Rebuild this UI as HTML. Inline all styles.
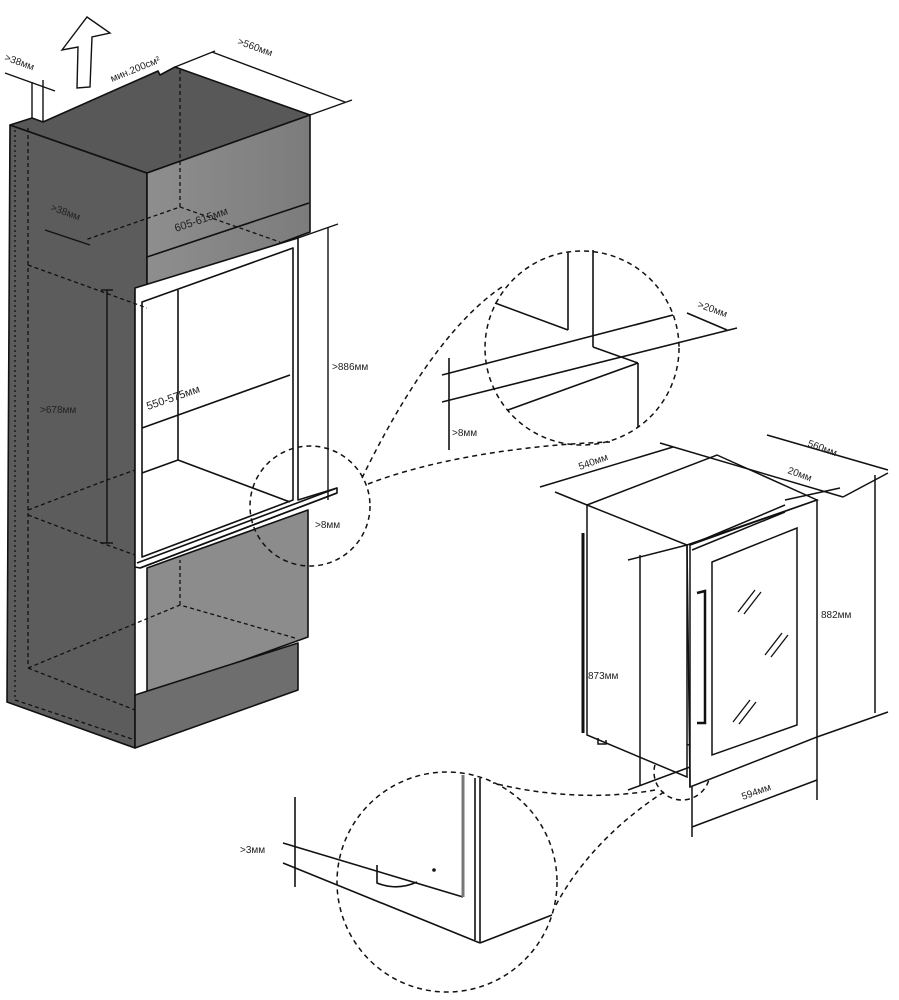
<!DOCTYPE html>
<html><head><meta charset="utf-8"><style>html,body{margin:0;padding:0;background:#fff}svg{display:block}text{font-family:"Liberation Sans",Arial,sans-serif;fill:#222}</style></head><body>
<svg width="899" height="1000" viewBox="0 0 899 1000" xmlns="http://www.w3.org/2000/svg">
<defs>
<linearGradient id="gf" x1="0" y1="0" x2="1" y2="0"><stop offset="0" stop-color="#8e8e8e"/><stop offset="1" stop-color="#7c7c7c"/></linearGradient>
</defs>
<g stroke="#111" stroke-width="1.6" stroke-linejoin="round">
<polygon points="10,125 147,173 147,293 135,290 135,748 7,702" fill="#5c5c5c"/>
<polygon points="10,125 32,118 43,122 158,71 160,75 175,67 310,115 147,173" fill="#585858"/>
<polygon points="147,173 310,115 310,232 147,293" fill="url(#gf)"/>
<line x1="147" y1="257" x2="309" y2="203"/>
<polygon points="135,288 298,238 298,500 337,488 337,493 140,568 135,567" fill="#fff"/>
<polygon points="142,302 293,248 293,500 142,557" fill="#fff"/>
<line x1="142" y1="428" x2="290" y2="375"/>
<line x1="178" y1="290" x2="178" y2="460"/>
<polyline points="142,473 178,460 290,502" fill="none"/>
<line x1="137" y1="563" x2="337" y2="488"/>
<line x1="140" y1="568" x2="337" y2="493"/>
<polygon points="147,568 308,510 308,637 147,695" fill="#8c8c8c"/>
<polygon points="135,695 298,643 298,690 135,748" fill="#6e6e6e"/>
</g>
<g fill="none" stroke="#111" stroke-width="1.3" stroke-dasharray="4,3">
<line x1="15" y1="130" x2="15" y2="700" stroke-dasharray="2,3"/>
<line x1="28" y1="128" x2="28" y2="665"/>
<polyline points="28,265 147,308"/>
<polyline points="180,70 180,207 85,240"/>
<line x1="180" y1="207" x2="280" y2="242"/>
<polyline points="28,510 107,480 135,470"/>
<polyline points="28,515 107,545 135,555"/>
<polyline points="28,668 180,605 295,638"/>
<line x1="180" y1="605" x2="180" y2="560"/>
<polyline points="15,700 135,740"/>
<polyline points="28,668 135,710"/>
</g>
<g stroke="#111" stroke-width="1.4" fill="none">
<polygon points="62,50 87,17 110,33 92,37 90,87 77,88 78,47" fill="#fff"/>
<line x1="32" y1="82" x2="32" y2="118"/><line x1="43" y1="80" x2="43" y2="122"/>
<line x1="5" y1="73" x2="55" y2="91"/>
<line x1="175" y1="67" x2="215" y2="51"/><line x1="310" y1="115" x2="352" y2="100"/>
<line x1="212" y1="52" x2="345" y2="102"/>
<line x1="45" y1="230" x2="90" y2="245"/>
<line x1="107" y1="290" x2="107" y2="543"/><line x1="101" y1="290" x2="113" y2="290"/><line x1="101" y1="543" x2="113" y2="543"/>
<line x1="298" y1="238" x2="338" y2="224"/>
<line x1="328" y1="228" x2="328" y2="500"/>
</g>
<g font-size="10">
<text x="4" y="60" transform="rotate(20 4 60)">&gt;38мм</text>
<text x="112" y="82" transform="rotate(-22 112 82)" font-size="10">мин.200см²</text>
<text x="237" y="44" transform="rotate(20 237 44)">&gt;560мм</text>
<text x="50" y="210" transform="rotate(20 50 210)">&gt;38мм</text>
<text x="176" y="232" transform="rotate(-19 176 232)" font-size="11">605-615мм</text>
<text x="40" y="413" font-size="10">&gt;678мм</text>
<text x="148" y="410" transform="rotate(-19 148 410)" font-size="11">550-575мм</text>
<text x="332" y="370">&gt;886мм</text>
<text x="315" y="528">&gt;8мм</text>
</g>
<g fill="none" stroke="#111" stroke-width="1.5" stroke-dasharray="5,4">
<circle cx="310" cy="506" r="60"/>
<circle cx="582" cy="348" r="97"/>
<circle cx="682" cy="772" r="28"/>
<circle cx="447" cy="882" r="110"/>
<path d="M362,478 C400,400 450,320 505,285"/>
<path d="M368,484 C430,460 520,445 610,442"/>
<path d="M655,790 C600,800 540,795 493,783"/>
<path d="M664,792 C620,820 580,860 556,905"/>
</g>
<g stroke="#111" stroke-width="1.6" fill="none">
<line x1="442" y1="375" x2="673" y2="315"/>
<line x1="442" y1="402" x2="737" y2="328"/>
<line x1="508" y1="410" x2="638" y2="363"/>
<line x1="568" y1="252" x2="568" y2="330"/>
<line x1="593" y1="250" x2="593" y2="347"/>
<line x1="495" y1="303" x2="568" y2="330"/>
<line x1="593" y1="347" x2="638" y2="363"/>
<line x1="638" y1="363" x2="638" y2="427"/>
<line x1="449" y1="358" x2="449" y2="450"/>
<line x1="687" y1="313" x2="727" y2="330"/>
</g>
<text x="452" y="436" font-size="10">&gt;8мм</text>
<text x="697" y="307" font-size="10" transform="rotate(20 697 307)">&gt;20мм</text>
<g stroke="#111" stroke-width="1.5" fill="none">
<polygon points="587,505 687,545 687,777 587,735" fill="#fff"/>
<polyline points="587,505 717,455 817,500 687,545"/>
<polygon points="690,545 817,500 817,737 690,787" fill="#fff"/>
<line x1="687" y1="545" x2="690" y2="787"/>
<polygon points="712,562 797,528 797,725 712,755"/>
<polyline points="697,593 705,591 705,723 697,723" stroke-width="2.5"/>
<line x1="583" y1="533" x2="583" y2="733" stroke-width="3"/>
<path d="M598,738 v6 h8 v-4"/>
<line x1="690" y1="545" x2="785" y2="505"/>
<line x1="692" y1="550" x2="785" y2="512"/>
<line x1="540" y1="487" x2="673" y2="447"/>
<line x1="555" y1="492" x2="587" y2="505"/>
<line x1="660" y1="443" x2="843" y2="497"/>
<line x1="767" y1="435" x2="888" y2="470"/>
<line x1="785" y1="500" x2="840" y2="488"/>
<line x1="875" y1="475" x2="875" y2="713"/>
<line x1="843" y1="497" x2="888" y2="473"/>
<line x1="817" y1="737" x2="888" y2="712"/>
<line x1="628" y1="560" x2="687" y2="545"/>
<line x1="640" y1="555" x2="640" y2="785"/>
<line x1="628" y1="790" x2="690" y2="767"/>
<line x1="692" y1="787" x2="692" y2="837"/>
<line x1="817" y1="737" x2="817" y2="800"/>
<line x1="692" y1="827" x2="817" y2="780"/>
</g>
<g stroke="#111" stroke-width="1.3">
<line x1="738" y1="612" x2="755" y2="590"/><line x1="744" y1="614" x2="761" y2="592"/>
<line x1="765" y1="655" x2="782" y2="633"/><line x1="771" y1="657" x2="788" y2="635"/>
<line x1="733" y1="722" x2="750" y2="700"/><line x1="739" y1="724" x2="756" y2="702"/>
</g>
<g font-size="10">
<text x="580" y="470" transform="rotate(-20 580 470)">540мм</text>
<text x="807" y="446" transform="rotate(20 807 446)">560мм</text>
<text x="787" y="473" transform="rotate(20 787 473)">20мм</text>
<text x="821" y="618">882мм</text>
<text x="588" y="679">873мм</text>
<text x="743" y="800" transform="rotate(-20 743 800)">594мм</text>
</g>
<g stroke="#111" stroke-width="1.6" fill="none">
<line x1="283" y1="843" x2="463" y2="897"/>
<line x1="283" y1="863" x2="480" y2="943"/>
<line x1="463" y1="775" x2="463" y2="897" stroke="#777" stroke-width="3"/>
<line x1="475" y1="778" x2="475" y2="940"/>
<line x1="480" y1="778" x2="480" y2="943"/>
<line x1="480" y1="943" x2="552" y2="915"/>
<path d="M377,865 v18 q20,8 40,-1"/>
<line x1="295" y1="797" x2="295" y2="887"/>
</g>
<circle cx="434" cy="870" r="1.8" fill="#111"/>
<text x="240" y="853" font-size="10">&gt;3мм</text>
</svg>
</body></html>
